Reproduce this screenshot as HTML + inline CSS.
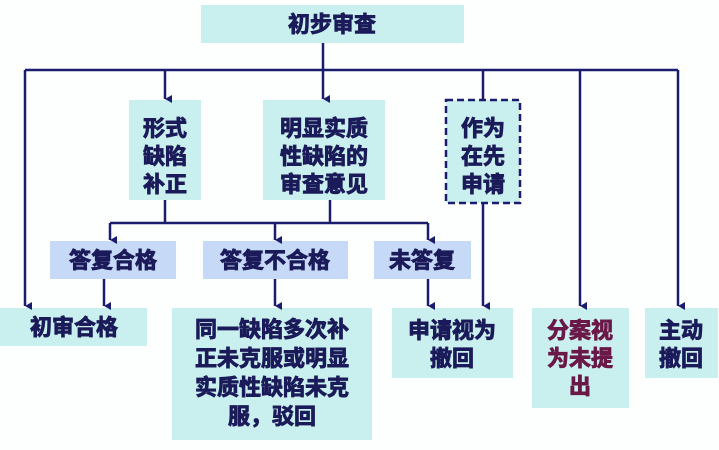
<!DOCTYPE html>
<html><head><meta charset="utf-8"><style>
html,body{margin:0;padding:0;background:#fdfefe;}
text{font-family:"Liberation Sans","Noto Sans CJK SC",sans-serif;font-weight:bold;font-size:22px;fill:#1b1b5a;stroke:#1b1b5a;stroke-width:0.9;text-anchor:middle;}
text.m{fill:#6a1848;stroke:#6a1848;}
</style></head><body>
<svg width="719" height="445" viewBox="0 0 719 445" xmlns="http://www.w3.org/2000/svg">
<defs><marker id="a" markerWidth="8" markerHeight="8" refX="4" refY="7" orient="auto-start-reverse" markerUnits="userSpaceOnUse"><path d="M0,0 L4,7 L8,0 Z" fill="#1c1c6e"/></marker></defs>
<g fill="#c9f0ee">
<rect x="201" y="5" width="263" height="38"/>
<rect x="129" y="100" width="72" height="100"/>
<rect x="263" y="100" width="122" height="100"/>
<rect x="446" y="100" width="74" height="103"/>
<rect x="0" y="308" width="147" height="38"/>
<rect x="172" y="308" width="200" height="132"/>
<rect x="392" y="308" width="121" height="70"/>
<rect x="532" y="308" width="97" height="100"/>
<rect x="645" y="308" width="73" height="70"/>
</g>
<g fill="#c6d9f7">
<rect x="50" y="241" width="126" height="38"/>
<rect x="203" y="241" width="145" height="38"/>
<rect x="374" y="241" width="97" height="38"/>
</g>
<rect x="446" y="100" width="74" height="103" fill="none" stroke="#1c1c6e" stroke-width="2.5" stroke-dasharray="7,4"/>
<g stroke="#1c1c6e" stroke-width="2.5" fill="none">
<path d="M25,70 H678"/>
<path d="M25,70 V306" marker-end="url(#a)"/>
<path d="M165,70 V99" marker-end="url(#a)"/>
<path d="M323,43 V99" marker-end="url(#a)"/>
<path d="M483,70 V100"/>
<path d="M483,203 V306" marker-end="url(#a)"/>
<path d="M580,70 V306" marker-end="url(#a)"/>
<path d="M678,70 V306" marker-end="url(#a)"/>
<path d="M165,200 V223 M330,200 V223 M110,223 H428"/>
<path d="M110,223 V240" marker-end="url(#a)"/>
<path d="M275,223 V240" marker-end="url(#a)"/>
<path d="M428,223 V240" marker-end="url(#a)"/>
<path d="M104,279 V306" marker-end="url(#a)"/>
<path d="M275,279 V306" marker-end="url(#a)"/>
<path d="M428,279 V306" marker-end="url(#a)"/>
</g>
<text x="332" y="32">初步审查</text>
<text x="165" y="136">形式</text><text x="165" y="164">缺陷</text><text x="165" y="192">补正</text>
<text x="324" y="136">明显实质</text><text x="324" y="164">性缺陷的</text><text x="324" y="192">审查意见</text>
<text x="483" y="136">作为</text><text x="483" y="164">在先</text><text x="483" y="192">申请</text>
<text x="113" y="268">答复合格</text>
<text x="275" y="268">答复不合格</text>
<text x="422" y="268">未答复</text>
<text x="74" y="335">初审合格</text>
<text x="272" y="337">同一缺陷多次补</text>
<text x="272" y="366">正未克服或明显</text>
<text x="272" y="395">实质性缺陷未克</text>
<text x="272" y="424">服，驳回</text>
<text x="452" y="338">申请视为</text><text x="452" y="366">撤回</text>
<text class="m" x="580" y="338">分案视</text><text class="m" x="580" y="366">为未提</text><text class="m" x="580" y="394">出</text>
<text x="681" y="338">主动</text><text x="681" y="366">撤回</text>
</svg>
</body></html>
